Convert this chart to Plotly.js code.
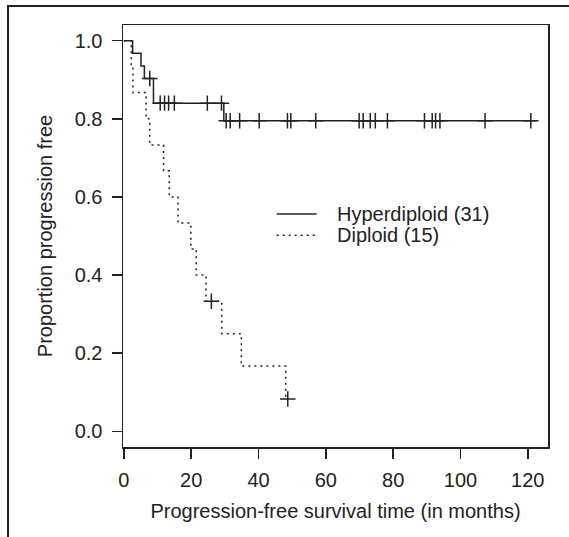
<!DOCTYPE html>
<html>
<head>
<meta charset="utf-8">
<script src="https://cdn.plot.ly/plotly-3.0.1.min.js"></script>
<style>html,body{margin:0;padding:0;background:#fff;}#chart{width:569px;height:537px;}</style>
</head>
<body>
<div id="chart"></div>
<script>
// Hyperdiploid (31): Kaplan-Meier steps
var hyperTimes = [0, 2.6, 5.1, 6.1, 8.8, 29.7, 122.5];
var hyperSurv  = [1.0, 0.968, 0.935, 0.903, 0.840, 0.795, 0.795];
var hyperCensTimes = [7.7, 10.8, 12.1, 13.3, 15.0, 24.8, 29.0,
  30.4, 31.6, 34.4, 40.2, 48.6, 49.6, 57.0, 69.9, 71.1, 73.2, 74.7, 78.3,
  89.3, 91.6, 92.6, 93.9, 107.3, 120.9];
var hyperCensSurv = [0.903, 0.840, 0.840, 0.840, 0.840, 0.840, 0.840,
  0.795, 0.795, 0.795, 0.795, 0.795, 0.795, 0.795, 0.795, 0.795, 0.795, 0.795, 0.795,
  0.795, 0.795, 0.795, 0.795, 0.795, 0.795];

// Diploid (15)
var dipTimes = [0, 2.2, 2.7, 6.6, 7.7, 11.8, 13.5, 16.1, 19.9, 21.5, 24.4, 29.1, 34.9, 48.1, 48.7];
var dipSurv  = [1.0, 0.933, 0.867, 0.800, 0.733, 0.667, 0.600, 0.533, 0.467, 0.400, 0.333, 0.250, 0.167, 0.083, 0.083];
var dipCensTimes = [26.0, 48.7];
var dipCensSurv  = [0.333, 0.083];

var legendLabels = ['Hyperdiploid (31)', 'Diploid (15)'];
var xTicks = [0, 20, 40, 60, 80, 100, 120];
var yTicks = [0, 0.2, 0.4, 0.6, 0.8, 1.0];
var yTickText = ['0.0', '0.2', '0.4', '0.6', '0.8', '1.0'];

var ink = '#222222';
var fontFam = 'Liberation Sans, Arial, Helvetica, sans-serif';

var traces = [
  {x: hyperTimes, y: hyperSurv, mode: 'lines', line: {shape: 'hv', color: ink, width: 1.5},
   showlegend: false, hoverinfo: 'skip'},
  {x: hyperCensTimes, y: hyperCensSurv, mode: 'markers',
   marker: {symbol: 'cross-thin', size: 11, line: {color: ink, width: 1.5}},
   showlegend: false, hoverinfo: 'skip'},
  {x: dipTimes, y: dipSurv, mode: 'lines', line: {shape: 'hv', color: ink, width: 1.5, dash: '2px,4px'},
   showlegend: false, hoverinfo: 'skip'},
  {x: dipCensTimes, y: dipCensSurv, mode: 'markers',
   marker: {symbol: 'cross-thin', size: 11, line: {color: ink, width: 1.5}},
   showlegend: false, hoverinfo: 'skip'}
];

var layout = {
  width: 569, height: 537,
  margin: {l: 123, r: 21, t: 25, b: 90},
  paper_bgcolor: '#ffffff', plot_bgcolor: '#ffffff',
  font: {family: fontFam, size: 20, color: ink},
  showlegend: false,
  xaxis: {
    range: [-0.25, 126], tickvals: xTicks, ticktext: xTicks.map(String),
    showgrid: false, zeroline: false, showline: true, mirror: true,
    linecolor: ink, linewidth: 1.5, ticks: 'outside', ticklen: 10, tickwidth: 1.5, tickcolor: ink,
    ticklabelstandoff: 4,
    tickfont: {size: 20, color: ink, family: fontFam},
    title: {text: 'Progression-free survival time (in months)', font: {size: 20, color: ink, family: fontFam}, standoff: 14}
  },
  yaxis: {
    range: [-0.04, 1.04], tickvals: yTicks, ticktext: yTickText,
    showgrid: false, zeroline: false, showline: true, mirror: true,
    linecolor: ink, linewidth: 1.5, ticks: 'outside', ticklen: 10, tickwidth: 1.5, tickcolor: ink,
    ticklabelstandoff: 5,
    tickfont: {size: 20, color: ink, family: fontFam},
    title: {text: 'Proportion progression free', font: {size: 20, color: ink, family: fontFam}, standoff: 16}
  },
  shapes: [
    // outer figure frame (cropped on right and bottom)
    {type: 'rect', xref: 'paper', yref: 'paper', x0: -0.2706, x1: 2, y0: -2, y1: 1.045,
     line: {color: ink, width: 2}, fillcolor: 'rgba(0,0,0,0)', layer: 'below'},
    // legend samples
    {type: 'line', xref: 'paper', yref: 'paper', x0: 0.3616, x1: 0.4557, y0: 0.552, y1: 0.552,
     line: {color: ink, width: 1.5}},
    {type: 'line', xref: 'paper', yref: 'paper', x0: 0.3616, x1: 0.4557, y0: 0.502, y1: 0.502,
     line: {color: ink, width: 1.5, dash: '2px,4px'}}
  ],
  annotations: [
    {xref: 'paper', yref: 'paper', x: 0.4988, y: 0.552, xanchor: 'left', yanchor: 'middle',
     text: legendLabels[0], showarrow: false, font: {size: 20, color: ink, family: fontFam}},
    {xref: 'paper', yref: 'paper', x: 0.4988, y: 0.502, xanchor: 'left', yanchor: 'middle',
     text: legendLabels[1], showarrow: false, font: {size: 20, color: ink, family: fontFam}}
  ]
};

Plotly.newPlot('chart', traces, layout, {staticPlot: true, displayModeBar: false});
</script>
</body>
</html>
